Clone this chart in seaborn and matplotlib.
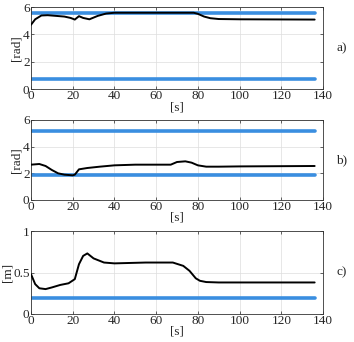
import numpy as np
import pandas as pd
import seaborn as sns
import matplotlib.pyplot as plt

# --- DATA ---
T_A = [0, 2, 5, 8, 12, 16, 19, 21, 23, 25, 28, 32, 36, 40, 60, 78, 80, 83, 86, 90, 100, 136]
Y_A = [4.7, 5.1, 5.38, 5.4, 5.35, 5.3, 5.2, 5.08, 5.33, 5.2, 5.1, 5.35, 5.52, 5.58, 5.58, 5.58, 5.5, 5.3, 5.18, 5.12, 5.1, 5.08]
LIM_A = [5.55, 0.7]

T_B = [0, 4, 7, 10, 13, 16, 20, 21, 23, 27, 33, 40, 50, 67, 70, 74, 77, 80, 84, 90, 100, 136]
Y_B = [2.65, 2.7, 2.55, 2.25, 2.0, 1.9, 1.85, 1.9, 2.3, 2.4, 2.5, 2.6, 2.65, 2.65, 2.85, 2.9, 2.8, 2.6, 2.5, 2.5, 2.52, 2.55]
LIM_B = [5.15, 1.9]

T_C = [0, 2, 4, 7, 10, 14, 18, 21, 23, 25, 27, 30, 35, 40, 55, 68, 73, 76, 79, 81, 84, 90, 136]
Y_C = [0.48, 0.36, 0.31, 0.3, 0.32, 0.35, 0.37, 0.42, 0.6, 0.7, 0.73, 0.67, 0.62, 0.61, 0.62, 0.62, 0.58, 0.52, 0.43, 0.4, 0.385, 0.38, 0.38]
LIM_C = [0.19]

BLUE = "#3A8EE0"
FS = 9.5

sns.set_theme(style="whitegrid", context="paper")
plt.rcParams['font.family'] = ['Liberation Serif', 'DejaVu Serif']

fig = plt.figure(figsize=(3.54, 3.42), dpi=100)
left, width = 31 / 354, 292 / 354
boxes = [(1 - 89 / 342, 82 / 342), (1 - 200 / 342, 80 / 342), (1 - 314 / 342, 83 / 342)]

panels = [
    (T_A, Y_A, LIM_A, "[rad]", (0, 6), [0, 2, 4, 6], ["0", "2", "4", "6"], "a)"),
    (T_B, Y_B, LIM_B, "[rad]", (0, 6), [0, 2, 4, 6], ["0", "2", "4", "6"], "b)"),
    (T_C, Y_C, LIM_C, "[m]", (0, 1), [0, 0.5, 1], ["0", "0.5", "1"], "c)"),
]

for (b, h), (t, y, lims, ylab, ylim, yt, ytl, tag) in zip(boxes, panels):
    ax = fig.add_axes([left, b, width, h])
    df = pd.DataFrame({"t": t, "y": y})
    for v in lims:
        ax.axhline(v, xmin=0, xmax=136 / 140, color=BLUE, lw=2.6, zorder=2)
    sns.lineplot(data=df, x="t", y="y", ax=ax, color="black", lw=1.4, zorder=3)
    ax.set_xlim(0, 140)
    ax.set_ylim(*ylim)
    ax.set_xticks(range(0, 141, 20))
    ax.set_yticks(yt)
    ax.set_yticklabels(ytl)
    ax.set_xlabel("[s]", fontsize=FS, labelpad=-1)
    ax.set_ylabel(ylab, fontsize=FS, labelpad=0)
    ax.tick_params(labelsize=FS, direction="in", length=2.5, width=0.5, pad=1,
                   top=True, right=True, bottom=True, left=True)
    ax.grid(True, color="#dddddd", lw=0.5)
    for s in ax.spines.values():
        s.set_color("#333333")
        s.set_linewidth(0.6)
    ax.text(1.045, 0.5, tag, transform=ax.transAxes, fontsize=FS, va="center", ha="left")

fig.savefig("out.png", dpi=100, facecolor="white")
